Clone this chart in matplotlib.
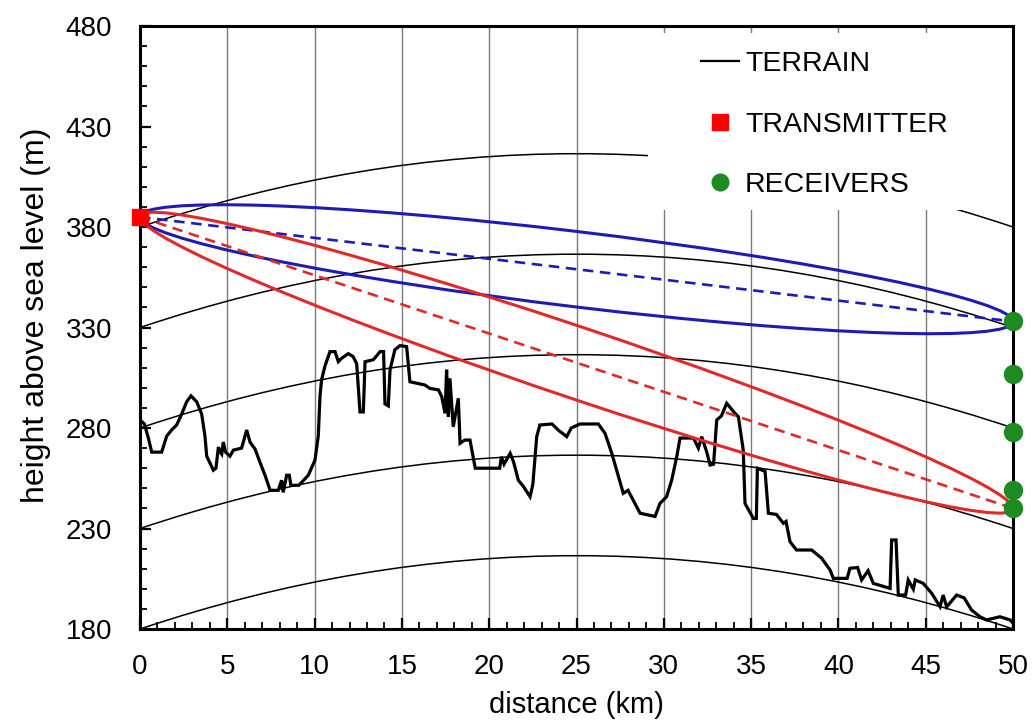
import numpy as np
import matplotlib
matplotlib.use("Agg")
import matplotlib.pyplot as plt
from matplotlib.path import Path
from matplotlib.patches import PathPatch, Circle, Rectangle
from matplotlib.transforms import Affine2D
from matplotlib.lines import Line2D
from matplotlib.ticker import MultipleLocator

plt.rcParams["font.family"] = ["Liberation Sans", "DejaVu Sans"]

# terrain profile (km, m)
terrain_km = [0.0, 0.25, 0.48, 0.67, 1.24, 1.53, 1.81, 2.1, 2.39, 2.67, 2.92, 3.25, 3.53, 3.72,
              3.82, 4.2, 4.35, 4.49, 4.6, 4.68, 4.77, 4.9, 5.15, 5.35, 5.82, 6.11, 6.3, 6.59,
              6.87, 7.16, 7.45, 7.92, 8.11, 8.2, 8.4, 8.55, 8.64, 9.1, 9.64, 10.02, 10.21, 10.31,
              10.4, 10.6, 10.88, 11.17, 11.36, 11.55, 11.93, 12.2, 12.41, 12.6, 12.79, 12.89,
              13.37, 13.75, 13.95, 14.03, 14.22, 14.32, 14.6, 14.89, 15.27, 15.46, 15.84, 16.32,
              16.6, 17.09, 17.28, 17.47, 17.56, 17.66, 17.75, 17.94, 18.23, 18.33, 18.6, 18.9,
              19.09, 19.2, 20.6, 20.7, 20.85, 21.2, 21.4, 21.67, 21.95, 22.34, 22.5, 22.72,
              22.9, 23.6, 23.95, 24.44, 24.7, 25.2, 26.25, 26.63, 27.02, 27.3, 27.68, 27.95,
              28.25, 28.64, 29.5, 29.78, 30.16, 30.45, 30.74, 30.93, 31.7, 31.98, 32.17, 32.46,
              32.65, 32.85, 33.03, 33.3, 33.6, 34.08, 34.27, 34.55, 34.65, 35.13, 35.3, 35.36,
              35.8, 35.99, 36.45, 36.85, 37.0, 37.23, 37.6, 38.47, 39.04, 39.52, 39.71, 40.5,
              40.66, 41.1, 41.33, 41.7, 42.0, 42.96, 43.05, 43.3, 43.43, 43.85, 44.0, 44.29,
              44.4, 44.86, 45.34, 45.82, 46.0, 46.2, 46.77, 47.2, 47.63, 48.11, 48.49, 49.25,
              49.83, 50.0]
terrain_m = [284, 282, 275, 268, 268, 276, 279, 281.5, 287, 293, 296, 293, 287, 276,
             266, 259, 260, 270.5, 268, 267, 273, 268, 266, 269, 270, 279, 273, 269.5,
             263, 256.5, 249, 249, 254, 248, 256.5, 256.5, 251.5, 251.5, 256.5, 264, 276, 296,
             304, 311, 318, 318, 313, 314.7, 317, 315.6, 312, 288, 288, 313,
             314, 318, 318, 292, 291, 309, 319, 321, 320.5, 303, 302.3, 301.4,
             299.7, 299, 295.6, 287.3, 309, 285.6, 304.7, 280.6, 294.8, 272.4, 274, 274,
             265, 260, 260, 265.7, 262, 267.4, 263, 254, 251, 245.8, 252, 275.7,
             281.5, 282, 279, 275.7, 280, 282, 282, 277.4, 267.4, 259, 247.5, 249,
             244, 237.6, 236, 242.5, 245.8, 254, 265.7, 275, 275, 270, 275.7, 268,
             261.6, 262, 284, 286, 292.3, 287.3, 285.6, 269, 242.5, 235, 235, 260,
             258.4, 237.6, 237, 232.6, 233.5, 223.4, 219.3, 219.3, 215.2, 209.4, 205.2, 205.2,
             210.2, 210.6, 204.4, 209, 202.7, 200.2, 224.3, 224.3, 196.9, 196.9, 204.4, 199.8,
             204.4, 202.7, 197.8, 191.1, 196.9, 191, 196.9, 195.5, 189.4, 186.1, 184.5, 186.1,
             184.5, 183]

# earth curvature reference arcs: height at both ends and rise at mid path
arc_base = [180, 230, 280, 330, 380]
arc_rise = 36.5

tx_km, tx_m = 0, 385
rx_km = [50, 50, 50, 50, 50]
rx_m = [333, 307, 278, 249, 240]

# links drawn with their zone: receiver height, half width at mid path, colour
link_end = [333, 240]
link_halfwidth = [18.8, 18.6]
link_color = ["#1c1cb4", "#e02a2a"]

green = "#1d8a22"

fig = plt.figure(figsize=(10.34, 7.27), dpi=100)
ax = fig.add_axes([0.1354, 0.1348, 0.8443, 0.8294])
ax.set_xlim(0, 50)
ax.set_ylim(180, 480)
ax.set_axisbelow(True)
ax.grid(axis="x", which="major", color="#7a7a7a", lw=1.0)

for b in arc_base:
    verts = [(0, b), (25, b + 2 * arc_rise), (50, b)]
    p = Path(verts, [Path.MOVETO, Path.CURVE3, Path.CURVE3])
    ax.add_patch(PathPatch(p, fill=False, color="black", lw=1.1, zorder=2))

ax.plot(terrain_km, terrain_m, color="black", lw=2.3, zorder=3, solid_joinstyle="miter")

for end, w, c in zip(link_end, link_halfwidth, link_color):
    ax.plot([tx_km, 50], [tx_m, end], color=c, lw=1.9, ls=(0, (4, 2.5)), zorder=3)
    mid = (tx_m + end) / 2
    tr = Affine2D(np.array([[25, 0, 25], [(end - tx_m) / 2, w, mid], [0, 0, 1]]))
    ax.add_patch(Circle((0, 0), 1, fill=False, ec=c, lw=2.2, zorder=3,
                        transform=tr + ax.transData))

# white box behind the legend
ax.add_patch(Rectangle((0.582, 0.695), 0.415, 0.293, transform=ax.transAxes,
                       fc="white", ec="none", zorder=4))

ax.plot([tx_km], [tx_m], ls="none", marker="s", ms=12, color="#ff0000",
        clip_on=False, zorder=6)
ax.plot(rx_km, rx_m, ls="none", marker="o", ms=13, color=green,
        clip_on=False, zorder=6)

handles = [
    Line2D([], [], color="black", lw=1.6, label="TERRAIN"),
    Line2D([], [], ls="none", marker="s", ms=12, color="#ff0000", label="TRANSMITTER"),
    Line2D([], [], ls="none", marker="o", ms=12, color=green, label="RECEIVERS"),
]
leg = ax.legend(handles=handles, loc="upper left", bbox_to_anchor=(0.643, 0.958),
                frameon=False, fontsize=20.5, labelspacing=1.21, handlelength=1.33,
                handletextpad=0.2, borderpad=0, borderaxespad=0)
leg.set_zorder(7)

ax.set_xticks(np.arange(0, 51, 5))
ax.set_yticks(np.arange(180, 481, 50))
ax.xaxis.set_minor_locator(MultipleLocator(1))
ax.yaxis.set_minor_locator(MultipleLocator(10))
ax.tick_params(which="both", direction="in", top=False, right=False, labelsize=20)
ax.tick_params(which="major", length=8, width=1.6)
ax.tick_params(axis="x", which="major", pad=18)
ax.tick_params(axis="y", which="major", pad=20)
ax.tick_params(which="minor", length=5, width=1.3)
for s in ax.spines.values():
    s.set_linewidth(2.2)

ax.set_xlabel("distance (km)", fontsize=21)
ax.set_ylabel("height above sea level (m)", fontsize=23)
ax.xaxis.set_label_coords(0.5, -0.103)
ax.yaxis.set_label_coords(-0.102, 0.52)

fig.savefig("out.png", dpi=100)
